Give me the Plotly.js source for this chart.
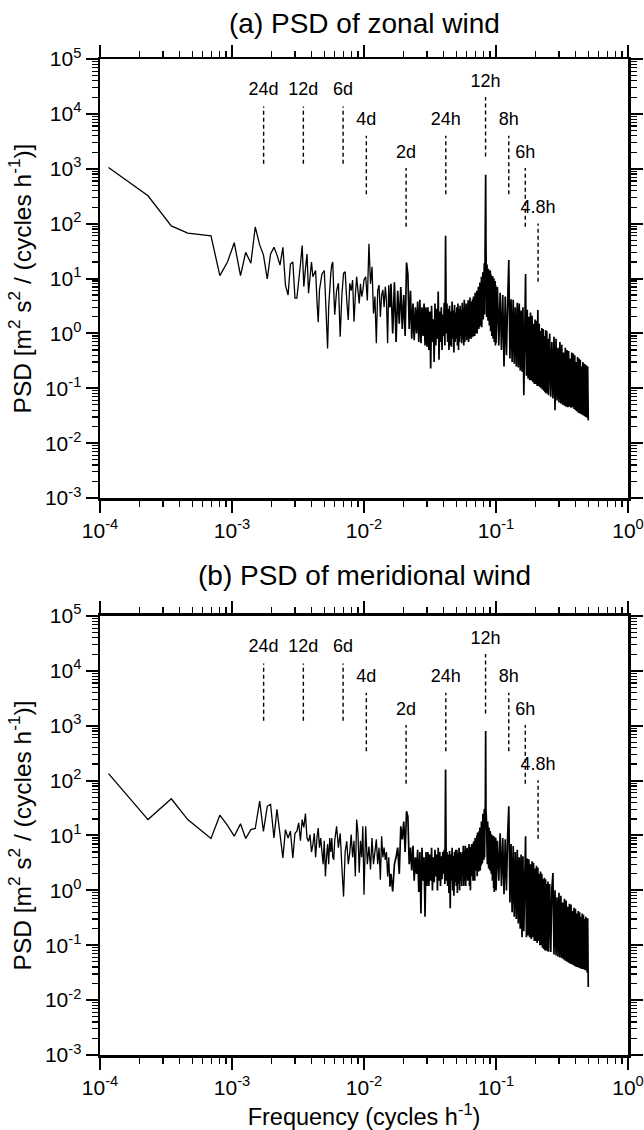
<!DOCTYPE html>
<html>
<head>
<meta charset="utf-8">
<script src="https://cdn.plot.ly/plotly-3.0.1.min.js"></script>
<style>
html,body{margin:0;padding:0;background:#ffffff;}
#chart{width:644px;height:1130px;}
</style>
</head>
<body>
<div id="chart"></div>
<script>
// ---------- frequencies (cycles per hour) ----------
const fA = [0.000116,0.000231,0.000347,0.000462,0.000578,0.000693,0.000809,0.000924,0.00104,0.00116,
            0.00127,0.00139,0.00150,0.00162,0.00173,0.00185,0.00196,0.00208,0.00219,0.00231,
            0.00243,0.00254,0.00266,0.00277,0.00289,0.00300];
const fB = [0.0031,0.0032,0.0033,0.0034,0.0035,0.0036,0.0037,0.0038,0.0039,0.0040,
            0.0041,0.0042,0.0043,0.0044,0.0045,0.0046,0.0047,0.0048,0.0049,0.0050,
            0.0051,0.0052,0.0053,0.0054,0.0055,0.0056,0.0057,0.0058,0.0059,0.0060,
            0.0062,0.0064,0.0066,0.0068,0.0070,0.0072,0.0074,0.0076,0.0078,0.0080,
            0.0082,0.0084,0.0086,0.0088,0.0090,0.0092,0.0094,0.0096,0.0098,0.0100,
            0.0103,0.0106,0.0109,0.0112,0.0115,0.0118,0.0121,0.0124,0.0127,0.0130,
            0.0133,0.0136,0.0139,0.0142,0.0145,0.0148,0.0151,0.0154,0.0157];
const fC = [0.0160,0.0165,0.0170,0.0175,0.0180,0.0185,0.0190,0.0195,0.0200,0.0205,
            0.0210,0.0215,0.0220,0.0225,0.0230,0.0235,0.0240,0.0245,0.0250,0.0255,
            0.0260,0.0265,0.0270,0.0275,0.0280,0.0285,0.0290,0.0295,0.0300];
const fD = [0.0305,0.0310,0.0315,0.0320,0.0325,0.0330,0.0335,0.0340,0.0345,0.0350,
            0.0355,0.0360,0.0365,0.0370,0.0375,0.0380,0.0385,0.0390,0.0395,0.0400,
            0.0405,0.0410,0.0415,0.0420,0.0425,0.0430,0.0435,0.0440,0.0445,0.0450,
            0.0455,0.0460,0.0465,0.0470,0.0475,0.0480,0.0485,0.0490,0.0495,0.0500,
            0.0505,0.0510,0.0515,0.0520,0.0525,0.0530,0.0535,0.0540,0.0545,0.0550,
            0.0555,0.0560,0.0565,0.0570,0.0575,0.0580,0.0585,0.0590,0.0595,0.0600,
            0.0605,0.0610,0.0615,0.0620,0.0625,0.0630,0.0635,0.0640,0.0645,0.0650,
            0.0655,0.0660,0.0665,0.0670,0.0675,0.0680,0.0685,0.0690,0.0695,0.0700,
            0.0705,0.0710,0.0715,0.0720,0.0725,0.0730,0.0735,0.0740,0.0745,0.0750,
            0.0755,0.0760,0.0765,0.0770,0.0775,0.0780,0.0785,0.0790,0.0795,0.0800,
            0.0805,0.0810,0.0815,0.0820,0.0825,0.0830,0.0835,0.0840,0.0845,0.0850,
            0.0855,0.0860,0.0865,0.0870,0.0875,0.0880,0.0885,0.0890,0.0895,0.0900,
            0.0905,0.0910,0.0915,0.0920,0.0925,0.0930,0.0935,0.0940,0.0945,0.0950,
            0.0955,0.0960,0.0965,0.0970,0.0975,0.0980,0.0985,0.0990,0.0995,0.1000];
const fE = [0.1025,0.1050,0.1075,0.1100,0.1125,0.1150,0.1175,0.1200,0.1225,0.1250,
            0.1275,0.1300,0.1325,0.1350,0.1375,0.1400,0.1425,0.1450,0.1475,0.1500,
            0.1525,0.1550,0.1575,0.1600,0.1625,0.1650,0.1675,0.1700,0.1725,0.1750,
            0.1775,0.1800,0.1825,0.1850,0.1875,0.1900,0.1925,0.1950,0.1975,0.2000,
            0.2025,0.2050,0.2075,0.2100,0.2125,0.2150,0.2175,0.2200,0.2225,0.2250,
            0.2275,0.2300,0.2325,0.2350,0.2375,0.2400,0.2425,0.2450,0.2475,0.2500];
const fF = [0.255,0.260,0.265,0.270,0.275,0.280,0.285,0.290,0.295,0.300,
            0.305,0.310,0.315,0.320,0.325,0.330,0.335,0.340,0.345,0.350,
            0.355,0.360,0.365,0.370,0.375,0.380,0.385,0.390,0.395,0.400,
            0.405,0.410,0.415,0.420,0.425,0.430,0.435,0.440,0.445,0.450,
            0.455,0.460,0.465,0.470,0.475,0.480,0.485,0.490,0.495,0.500];

// ---------- (a) zonal wind PSD ----------
const zA = [1054,321,91,67,63,60,11.3,20,45,11.3,
            30,19,87,41,27,9.8,28,37,27,17.6,
            37,7.6,5.0,18.4,20,4.4];
const zB = [4.4,10.8,18,40,7.1,15,28,5.4,12,20,
            10.8,12,14,4,1.6,6.2,9,12,13,14,
            5,1.2,0.53,3,7,12,18,20,6,2.2,
            6,8.2,0.87,5,12.4,13.3,4,1.75,8.2,6,
            9.4,1.63,5,10.8,6,3.5,8,4.7,6,9.4,
            10.8,4,43,8,16.4,2.3,4.7,0.66,6,7.6,
            2.0,5,6.2,3,7.1,4,0.66,7.6,3];
const zC = [8,1.0,8.5,0.7,6,1.5,7,1.2,5,0.9,
            19.5,12,1.2,6,0.8,3.5,0.75,3,1.0,3.8,
            0.7,4.1,0.66,3,0.9,3.5,0.6,3,0.57];
const zD = [3.0,0.5,2.5,0.23,3.2,0.7,1.8,0.3,3.5,0.6,
            2.8,0.8,5.8,0.33,2.5,0.7,3.0,0.5,2.2,0.9,
            3.6,0.6,60,1.0,3.5,0.7,2.8,0.5,3.2,0.6,
            2.5,0.57,3.8,0.8,2.6,0.45,3.3,0.7,2.4,0.8,
            3.0,0.6,3.5,0.5,2.8,0.7,3.2,0.9,2.7,0.66,
            3.6,0.8,2.9,0.6,4.1,0.7,3.0,0.9,3.5,0.75,
            3.2,0.9,4.0,0.7,3.4,0.8,4.5,1.0,3.6,0.8,
            3.8,1.0,4.2,0.87,4.7,1.1,4.0,0.9,5.5,1.0,
            5.0,1.2,6.0,1.0,5.5,1.3,7.1,1.2,6.5,1.3,
            8.5,1.4,7.5,1.5,10.8,1.3,9.5,1.6,13,1.8,
            12,2.0,19,2.2,17,80,774,40,19,2.0,
            18,1.8,16,1.7,15,1.5,14,1.4,13,1.2,
            14,1.1,12,1.0,11,0.9,10,0.85,11,0.8,
            9,0.75,10,0.7,8.5,0.65,9,0.6,7.5,0.66];
const zE = [7,0.6,5.5,0.5,5,0.25,4.7,0.4,3.5,21.8,
            0.35,4.2,0.3,4.1,0.28,3.0,0.25,3.6,0.24,3.5,
            0.21,2.6,0.2,3.0,0.075,2.8,12.1,0.17,2.7,0.15,
            2.0,0.14,2.4,0.14,2.1,0.13,1.5,0.12,1.8,0.12,
            1.7,0.11,2.66,0.11,1.5,0.106,1.1,0.1,1.25,0.095,
            1.2,0.09,0.9,0.085,1.15,0.08,1.1,0.08,0.8,0.075];
const zF = [1.0,0.07,0.7,0.065,0.87,0.04,0.8,0.06,0.55,0.055,
            0.7,0.053,0.62,0.05,0.45,0.048,0.55,0.046,0.5,0.045,
            0.48,0.046,0.35,0.044,0.45,0.045,0.43,0.042,0.4,0.04,
            0.3,0.038,0.37,0.036,0.35,0.035,0.33,0.034,0.25,0.033,
            0.3,0.032,0.28,0.031,0.27,0.03,0.26,0.029,0.25,0.026];

// ---------- (b) meridional wind PSD ----------
const mA = [134,19.5,46.6,19.5,12.6,8.8,23.4,15.3,9.7,16.3,
            8.8,12.8,13.4,42.3,11.9,34,37,9.0,30,9.7,
            3.9,12.8,9.0,12,3.9,11];
const mB = [12,17,8,19.5,14,25,9,7.8,10.4,5,
            6.8,11,4,9,13.7,6,9,5.1,3,8,
            1.8,4,7,3,9,5,9,4,3.6,8,
            14.7,6,11,2.7,0.77,5.1,7.8,3,4.8,10.4,
            4,8,1.8,19.5,11,2.1,8,4,14.7,0.83,
            14.7,3,6.3,2.4,9.0,3,4.7,8.5,3,6,
            1.56,9.7,4,6,3.6,5,1.8,4,1.18];
const mC = [2.0,0.96,3.0,4,6.0,2,14.7,8.5,18,5,
            27.7,22,3,6,2.3,6.5,1.5,4,2,5.5,
            0.93,5,0.38,6,1.5,4,0.33,5,1.2];
const mD = [5,1.2,4.5,1.5,6,1.0,4,1.4,5.5,1.8,
            4.5,1.0,6,1.5,5,1.2,4.2,1.6,5,2,
            5.5,1.3,160,1.5,5,1.2,4.5,0.9,5.2,0.47,
            4.5,1.5,6,1.0,4.2,0.8,5,1.4,5.5,1.2,
            5.5,0.9,4.8,1.3,6,1.0,5,1.5,4.6,1.2,
            5,1.8,6.5,1.2,5.2,1.5,6.5,1.2,5.5,2,
            6,1.5,5.5,2,7,1.2,6.2,1.0,6,1.8,
            7,2,6.5,1.5,7.5,2.2,8,1.5,9,2.3,
            8.5,2.3,10,1.8,11.3,2.5,10,2.2,12,2.5,
            14,2.3,13,2.8,18,3,16,3.2,25,3.6,
            22,3.6,30,4,27.7,35,805,28,22,3.5,
            20,3,18,2.8,15,2.5,14,2.5,12,2.3,
            12,2.3,11,2.0,10.5,1.8,10,1.5,9.5,1.2,
            9.7,1.1,9,0.93,9.5,1.0,8.5,1.1,9,1.0];
const mE = [8,1.5,11,1.2,9,0.85,8.5,1.0,9.7,34,
            0.6,7,0.4,6.4,0.33,5,0.3,5.5,0.25,4,
            0.2,4.5,0.14,4.2,0.18,3.5,9.7,0.14,3.8,0.15,
            3.7,0.14,3.0,0.13,3.4,0.14,3.2,0.12,2.5,0.12,
            2.8,0.11,2.6,0.12,2.0,0.1,2.2,0.1,2.0,0.09,
            1.6,0.085,1.7,0.08,1.6,0.08,1.3,0.078,1.45,0.076];
const mF = [1.3,0.075,1.1,2.06,0.068,1.0,0.065,0.75,0.062,0.9,
            0.06,0.8,0.058,0.6,0.055,0.7,0.052,0.65,0.05,0.5,
            0.048,0.57,0.046,0.55,0.045,0.42,0.043,0.48,0.042,0.46,
            0.04,0.38,0.04,0.42,0.039,0.4,0.038,0.33,0.037,0.38,
            0.037,0.36,0.036,0.3,0.035,0.33,0.034,0.032,0.31,0.0174];

// ---------- reference periods (dashed markers) ----------
const markNames   = ['24d','12d','6d','4d','2d','24h','12h','8h','6h','4.8h'];
const markPeriodH = [576,288,144,96,48,24,12,8,6,4.8];
const markLineLo  = [1230,1230,1230,344,88,344,1670,344,88,8.7];
const markLineHi  = [13600,13600,13600,4000,1030,4000,20300,4000,1030,101];
const markLabelY  = [27000,27000,27000,7600,1900,7600,37500,7600,1900,186];

// ---------- axis tick labels ----------
const xTickVals = [1e-4,1e-3,1e-2,1e-1,1];
const xTickText = ['10<sup>-4</sup>','10<sup>-3</sup>','10<sup>-2</sup>','10<sup>-1</sup>','10<sup>0</sup>'];
const yTickVals = [1e-3,1e-2,1e-1,1,1e1,1e2,1e3,1e4,1e5];
const yTickText = ['10<sup>-3</sup>','10<sup>-2</sup>','10<sup>-1</sup>','10<sup>0</sup>','10<sup>1</sup>',
                   '10<sup>2</sup>','10<sup>3</sup>','10<sup>4</sup>','10<sup>5</sup>'];

const panelTitles = ['(a) PSD of zonal wind','(b) PSD of meridional wind'];
const yTitle = 'PSD [m<sup>2</sup> s<sup>2</sup> / (cycles h<sup>-1</sup>)]';
const xTitle = 'Frequency (cycles h<sup>-1</sup>)';

// ---------- build ----------
const FONT = 'Liberation Sans, Arial, Helvetica, sans-serif';
const freqLow  = [].concat(fA,fB);
const freqHigh = [fB[fB.length-1]].concat(fC,fD,fE,fF);
const zonalLow  = [].concat(zA,zB);
const zonalHigh = [zB[zB.length-1]].concat(zC,zD,zE,zF);
const meridLow  = [].concat(mA,mB);
const meridHigh = [mB[mB.length-1]].concat(mC,mD,mE,mF);
const markFreq = markPeriodH.map(p => 1/p);

const lx = [], ly = [];
markFreq.forEach((f,i) => { lx.push(f,f,null); ly.push(markLineLo[i],markLineHi[i],null); });

function panelTraces(low, high, xa, ya){
  return [
    {x:freqLow, y:low, mode:'lines', line:{color:'#000',width:1.3}, xaxis:xa, yaxis:ya, hoverinfo:'skip'},
    {x:freqHigh, y:high, mode:'lines', line:{color:'#000',width:1.7}, xaxis:xa, yaxis:ya, hoverinfo:'skip'},
    {x:lx, y:ly, mode:'lines', line:{color:'#000',width:1.4,dash:'4px,3px'}, connectgaps:false, xaxis:xa, yaxis:ya, hoverinfo:'skip'},
    {x:markFreq, y:markLabelY, mode:'text', text:markNames, textposition:'middle center',
     textfont:{family:FONT,size:18,color:'#000'}, xaxis:xa, yaxis:ya, hoverinfo:'skip', cliponaxis:false}
  ];
}

function xAxis(anchor, withTitle){
  const a = {
    type:'log', range:[-4,0], domain:[0,1], anchor:anchor,
    showline:true, linewidth:2.5, linecolor:'#000', mirror:'allticks',
    ticks:'outside', ticklen:12, tickwidth:2, tickcolor:'#000',
    tickmode:'array', tickvals:xTickVals, ticktext:xTickText,
    tickfont:{family:FONT,size:21,color:'#000'},
    minor:{ticks:'outside', ticklen:6, tickwidth:1.2, tickcolor:'#000', dtick:'D1', showgrid:false},
    showgrid:false, zeroline:false
  };
  if(withTitle){ a.title = {text:xTitle, font:{family:FONT,size:23.5,color:'#000'}, standoff:11}; }
  return a;
}
function yAxis(anchor, domain){
  return {
    type:'log', range:[-3,5], domain:domain, anchor:anchor,
    showline:true, linewidth:2.5, linecolor:'#000', mirror:'allticks',
    ticks:'outside', ticklen:12, tickwidth:2, tickcolor:'#000',
    tickmode:'array', tickvals:yTickVals, ticktext:yTickText,
    tickfont:{family:FONT,size:21,color:'#000'},
    minor:{ticks:'outside', ticklen:6, tickwidth:1.2, tickcolor:'#000', dtick:'D1', showgrid:false},
    showgrid:false, zeroline:false,
    title:{text:yTitle, font:{family:FONT,size:24.5,color:'#000'}, standoff:7}
  };
}

const data = [].concat(panelTraces(zonalLow,zonalHigh,'x','y'), panelTraces(meridLow,meridHigh,'x2','y2'));

const layout = {
  width:644, height:1130,
  margin:{l:100, r:16, t:59, b:75},
  paper_bgcolor:'#fff', plot_bgcolor:'#fff',
  showlegend:false,
  font:{family:FONT, color:'#000'},
  xaxis: xAxis('y', false),
  yaxis: yAxis('x', [0.5592,1]),
  xaxis2: xAxis('y2', true),
  yaxis2: yAxis('x2', [0,0.4408]),
  annotations:[
    {text:panelTitles[0], xref:'paper', yref:'paper', x:0.5, y:1.036, xanchor:'center', yanchor:'middle',
     showarrow:false, font:{family:FONT,size:28,color:'#000'}},
    {text:panelTitles[1], xref:'paper', yref:'paper', x:0.5, y:0.4815, xanchor:'center', yanchor:'middle',
     showarrow:false, font:{family:FONT,size:28,color:'#000'}}
  ]
};

Plotly.newPlot('chart', data, layout, {displayModeBar:false, staticPlot:true});
</script>
</body>
</html>
